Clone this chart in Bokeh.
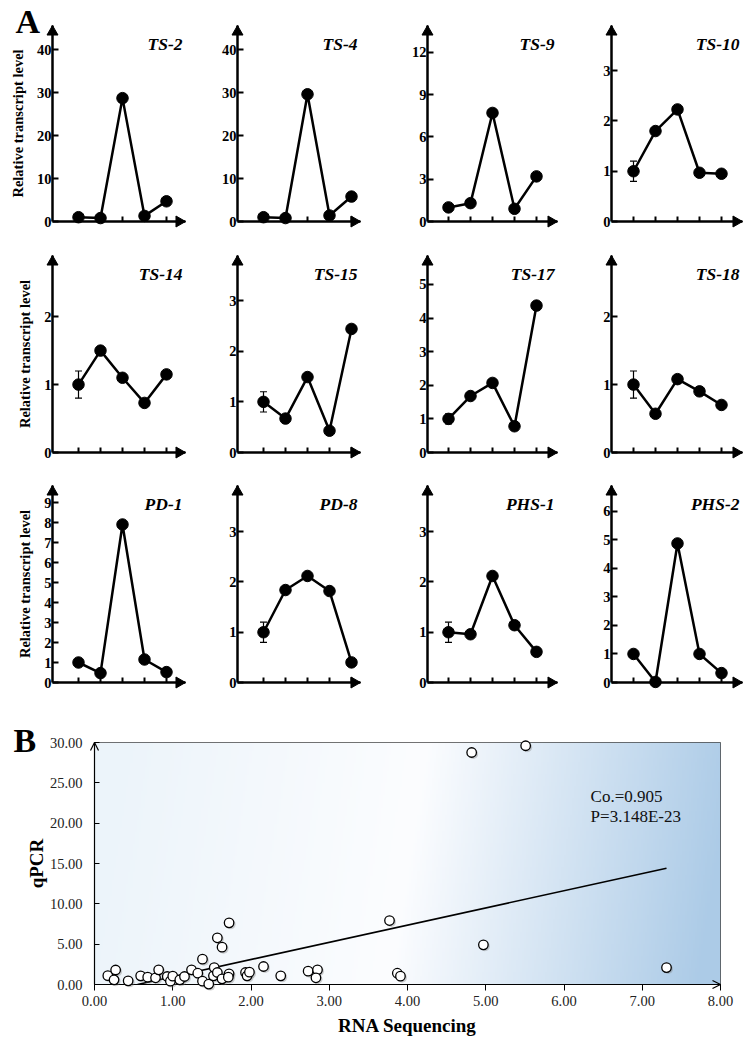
import numpy as np
from bokeh.plotting import figure
from bokeh.layouts import column, row
from bokeh.models import (Range1d, FixedTicker, Label, Whisker, TeeHead,
                          ColumnDataSource, NumeralTickFormatter, CustomJSTickFormatter)
from bokeh.core.properties import value
from bokeh.embed import file_html
from bokeh.resources import INLINE

# ---------------- data: panel A ----------------
stages = [1, 2, 3, 4, 5]
genes = ["TS-2", "TS-4", "TS-9", "TS-10",
         "TS-14", "TS-15", "TS-17", "TS-18",
         "PD-1", "PD-8", "PHS-1", "PHS-2"]
ts2 = [1.0, 0.8, 28.7, 1.3, 4.7]
ts4 = [1.0, 0.8, 29.6, 1.4, 5.8]
ts9 = [1.0, 1.3, 7.7, 0.9, 3.2]
ts10 = [1.0, 1.8, 2.23, 0.97, 0.95]
ts14 = [1.0, 1.5, 1.1, 0.73, 1.15]
ts15 = [1.0, 0.67, 1.49, 0.43, 2.44]
ts17 = [1.0, 1.68, 2.07, 0.78, 4.37]
ts18 = [1.0, 0.57, 1.08, 0.9, 0.7]
pd1 = [1.0, 0.47, 7.9, 1.15, 0.52]
pd8 = [1.0, 1.84, 2.12, 1.82, 0.4]
phs1 = [1.0, 0.96, 2.12, 1.14, 0.61]
phs2 = [1.0, 0.02, 4.87, 1.0, 0.33]
first_err = [0.0, 0.0, 0.0, 0.2, 0.2, 0.2, 0.15, 0.2, 0.0, 0.2, 0.2, 0.1]
y_ticks = [[0, 10, 20, 30, 40], [0, 10, 20, 30, 40], [0, 3, 6, 9, 12], [0, 1, 2, 3],
           [0, 1, 2], [0, 1, 2, 3], [0, 1, 2, 3, 4, 5], [0, 1, 2],
           [0, 1, 2, 3, 4, 5, 6, 7, 8, 9], [0, 1, 2, 3], [0, 1, 2, 3], [0, 1, 2, 3, 4, 5, 6]]
y_axis_max = [45.6, 45.6, 13.9, 3.9, 2.9, 3.89, 5.86, 2.9, 9.85, 3.92, 3.92, 6.9]
series = [ts2, ts4, ts9, ts10, ts14, ts15, ts17, ts18, pd1, pd8, phs1, phs2]

# ---------------- data: panel B ----------------
rna_seq = [0.17, 0.27, 0.25, 0.43, 0.59, 0.68, 0.78, 0.82, 0.93, 0.97, 1.00, 1.09,
           1.15, 1.24, 1.32, 1.38, 1.38, 1.46, 1.52, 1.53, 1.57, 1.57, 1.63, 1.63,
           1.72, 1.72, 1.71, 1.93, 1.95, 1.98, 2.16, 2.38, 2.73, 2.85, 2.83, 3.77,
           3.87, 3.91, 4.82, 5.51, 4.97, 7.31]
qpcr = [1.10, 1.80, 0.58, 0.45, 1.07, 0.91, 0.83, 1.82, 0.99, 0.41, 1.03, 0.58,
        0.99, 1.82, 1.40, 3.14, 0.41, 0.05, 1.07, 2.10, 1.49, 5.79, 4.63, 0.70,
        7.64, 1.32, 0.91, 1.49, 1.07, 1.53, 2.23, 1.07, 1.65, 1.82, 0.83, 7.93,
        1.40, 1.03, 28.76, 29.60, 4.92, 2.10]
fit_x = [0.55, 7.31]
fit_slope = 2.133
fit_intercept = -1.17
stats_text = ["Co.=0.905", "P=3.148E-23"]
b_x_ticks = [0, 1, 2, 3, 4, 5, 6, 7, 8]
b_y_ticks = [0, 5, 10, 15, 20, 25, 30]

SERIF = "Liberation Serif"

# ---------------- geometry (pixels) ----------------
PX_UNIT = 22.0
col_w = [195, 190, 185, 180]
col_mbl = [52, 42, 42, 41]
left_gap = [26, 26, 21, 22]
tip_gap = [19, 9, 21, 21]
row_h = [240, 230, 235]
row_mbt = [25, 15, 15]
row_fh = [196, 197, 197]
HEAD = 11.0  # arrow head size in px


def small_panel(idx, col, rowi):
    g = genes[idx]
    vals = series[idx]
    ytop = y_axis_max[idx]
    xa = stages[0] - left_gap[col] / PX_UNIT
    xtip = stages[-1] + tip_gap[col] / PX_UNIT
    fw = int(round((xtip - xa) * PX_UNIT))
    fh = row_fh[rowi]
    p = figure(width=col_w[col], height=row_h[rowi],
               x_range=Range1d(xa, xtip), y_range=Range1d(0, ytop),
               min_border_left=col_mbl[col],
               min_border_right=col_w[col] - col_mbl[col] - fw,
               min_border_top=row_mbt[rowi],
               min_border_bottom=row_h[rowi] - row_mbt[rowi] - fh,
               output_backend="svg", toolbar_location=None)
    p.xgrid.visible = False
    p.ygrid.visible = False
    p.outline_line_color = None
    p.background_fill_color = "white"
    p.border_fill_color = "white"

    ya = p.yaxis[0]
    ya.ticker = FixedTicker(ticks=y_ticks[idx])
    ya.axis_line_color = None
    ya.major_tick_in = 6
    ya.major_tick_out = 0
    ya.major_tick_line_width = 2
    ya.major_tick_line_color = "black"
    ya.minor_tick_line_color = None
    ya.major_label_text_font = SERIF
    ya.major_label_text_font_style = "bold"
    ya.major_label_text_font_size = "14.5px"
    ya.major_label_text_color = "black"
    ya.major_label_standoff = 1
    if col == 0:
        ya.axis_label = "Relative transcript level"
        ya.axis_label_text_font = SERIF
        ya.axis_label_text_font_style = "bold"
        ya.axis_label_text_font_size = "14.5px"
        ya.axis_label_text_color = "black"
        ya.axis_label_standoff = 8

    xax = p.xaxis[0]
    xax.ticker = FixedTicker(ticks=stages)
    xax.axis_line_color = None
    xax.major_tick_in = 5
    xax.major_tick_out = 0
    xax.major_tick_line_width = 2
    xax.major_tick_line_color = "black"
    xax.minor_tick_line_color = None
    xax.formatter = CustomJSTickFormatter(code="return ''")
    xax.major_label_text_font_size = "1px"
    xax.major_label_standoff = 0

    # axis lines with filled arrow heads (drawn as overlay glyphs)
    p.line([xa, xa], [0, ytop], line_width=2.5, line_color="black", level="overlay")
    p.line([xa, xtip], [0, 0], line_width=2.5, line_color="black", level="overlay")
    tip_off = HEAD * np.sqrt(3) / 2 * 2 / 3
    p.scatter([xa], [ytop - tip_off * ytop / fh], marker="triangle", size=HEAD,
              fill_color="black", line_color="black", level="overlay")
    p.scatter([xtip - tip_off / PX_UNIT], [0], marker="triangle", angle=-np.pi / 2,
              size=HEAD, fill_color="black", line_color="black", level="overlay")

    e = first_err[idx]
    if e > 0:
        src = ColumnDataSource(dict(x=[stages[0]], lower=[vals[0] - e], upper=[vals[0] + e]))
        p.add_layout(Whisker(source=src, base="x", lower="lower", upper="upper",
                             line_width=1.2, line_color="black",
                             upper_head=TeeHead(size=7, line_width=1.2),
                             lower_head=TeeHead(size=7, line_width=1.2)))

    p.line(stages, vals, line_width=2.5, line_color="black", level="overlay")
    p.scatter(stages, vals, size=11.5, fill_color="black", line_color="black", level="overlay")

    p.add_layout(Label(x=xtip, y=ytop, text=g, text_align="right", text_baseline="top",
                       x_offset=-3, y_offset=-8, text_font=SERIF,
                       text_font_style="bold italic", text_font_size="17.5px",
                       text_color="black"))
    if col == 0 and rowi == 0:
        p.text(x=[xa], y=[ytop], text=["A"], text_align="left",
               text_baseline="alphabetic", x_offset=-37, y_offset=-4,
               text_font=value(SERIF), text_font_style="bold",
               text_font_size="34px", text_color="black", level="overlay")
    return p


rows = []
for r in range(3):
    figs = [small_panel(r * 4 + c, c, r) for c in range(4)]
    rows.append(row(*figs, spacing=0))

# ---------------- panel B ----------------
B_W, B_H = 750, 338
B_MBL, B_FW = 94, 626
B_MBT, B_FH = 37, 242
pB = figure(width=B_W, height=B_H, x_range=Range1d(0, 8), y_range=Range1d(0, 30),
            min_border_left=B_MBL, min_border_right=B_W - B_MBL - B_FW,
            min_border_top=B_MBT, min_border_bottom=B_H - B_MBT - B_FH,
            output_backend="svg", toolbar_location=None)
pB.xgrid.visible = False
pB.ygrid.visible = False
pB.outline_line_color = "#444444"
pB.outline_line_width = 1
pB.border_fill_color = "white"

# background gradient (styling)
W, H = 300, 60
u = np.linspace(0, 1, W)[None, :]
v = np.linspace(0, 1, H)[:, None]
t = np.clip(u + 0.06 * (0.5 - v), 0, 1)
st = np.array([0.0, 0.5, 1.0])
cols = np.array([[236, 244, 250], [252, 253, 255], [172, 203, 231]], dtype=float)
img = np.zeros((H, W), dtype=np.uint32)
view = img.view(dtype=np.uint8).reshape((H, W, 4))
for k in range(3):
    view[:, :, k] = np.interp(t, st, cols[:, k]).astype(np.uint8)
view[:, :, 3] = 255
pB.image_rgba(image=[img], x=0, y=0, dw=8, dh=30)

yb = pB.yaxis[0]
yb.ticker = FixedTicker(ticks=b_y_ticks)
yb.formatter = NumeralTickFormatter(format="0.00")
yb.axis_line_color = None
yb.major_tick_in = 5
yb.major_tick_out = 0
yb.major_tick_line_color = "black"
yb.minor_tick_line_color = None
yb.major_label_text_font = SERIF
yb.major_label_text_font_size = "14.5px"
yb.major_label_text_color = "#222222"
yb.major_label_standoff = 12
yb.axis_label = "qPCR"
yb.axis_label_text_font = SERIF
yb.axis_label_text_font_style = "bold"
yb.axis_label_text_font_size = "19px"
yb.axis_label_text_color = "black"
yb.axis_label_standoff = 0

xb = pB.xaxis[0]
xb.ticker = FixedTicker(ticks=b_x_ticks)
xb.formatter = NumeralTickFormatter(format="0.00")
xb.axis_line_color = None
xb.major_tick_in = 0
xb.major_tick_out = 6
xb.major_tick_line_color = "black"
xb.minor_tick_line_color = None
xb.major_label_text_font = SERIF
xb.major_label_text_font_size = "14.5px"
xb.major_label_text_color = "#222222"
xb.major_label_standoff = 5
xb.axis_label = "RNA Sequencing"
xb.axis_label_text_font = SERIF
xb.axis_label_text_font_style = "bold"
xb.axis_label_text_font_size = "19px"
xb.axis_label_text_color = "black"
xb.axis_label_standoff = 6

# axis lines with open arrow heads
ux = 8 / B_FW   # data units per px (x)
uy = 30 / B_FH  # data units per px (y)
pB.line([0, 0], [0, 30], line_width=1.2, line_color="black", level="overlay")
pB.line([0, 8], [0, 0], line_width=1.2, line_color="black", level="overlay")
pB.line([-4 * ux, 0, 4 * ux], [30 - 8 * uy, 30, 30 - 8 * uy], line_width=1.2,
        line_color="black", level="overlay")
pB.line([8 - 8 * ux, 8, 8 - 8 * ux], [4 * uy, 0, -4 * uy], line_width=1.2,
        line_color="black", level="overlay")

fy = [fit_slope * x + fit_intercept for x in fit_x]
pB.line(fit_x, fy, line_width=1.6, line_color="black")

pB.scatter([x + 1.5 * ux for x in rna_seq], [y - 1.5 * uy for y in qpcr], size=10,
           fill_color="#777777", fill_alpha=0.35, line_color=None, level="overlay")
pB.scatter(rna_seq, qpcr, size=9.5, fill_color="white", line_color="black",
           line_width=1.3, level="overlay")

pB.add_layout(Label(x=6.34, y=23.3, text=stats_text[0], text_baseline="middle",
                    text_font=SERIF, text_font_size="17px", text_color="#111111"))
pB.add_layout(Label(x=6.34, y=20.8, text=stats_text[1], text_baseline="middle",
                    text_font=SERIF, text_font_size="17px", text_color="#111111"))
pB.text(x=[0], y=[30], text=["B"], text_align="left", text_baseline="alphabetic",
        x_offset=-81, y_offset=-2, text_font=value(SERIF), text_font_style="bold",
        text_font_size="34px", text_color="black", level="overlay")

layout = column(*rows, pB, spacing=0)
open("out.html", "w").write(file_html(layout, INLINE, title="qPCR validation"))
